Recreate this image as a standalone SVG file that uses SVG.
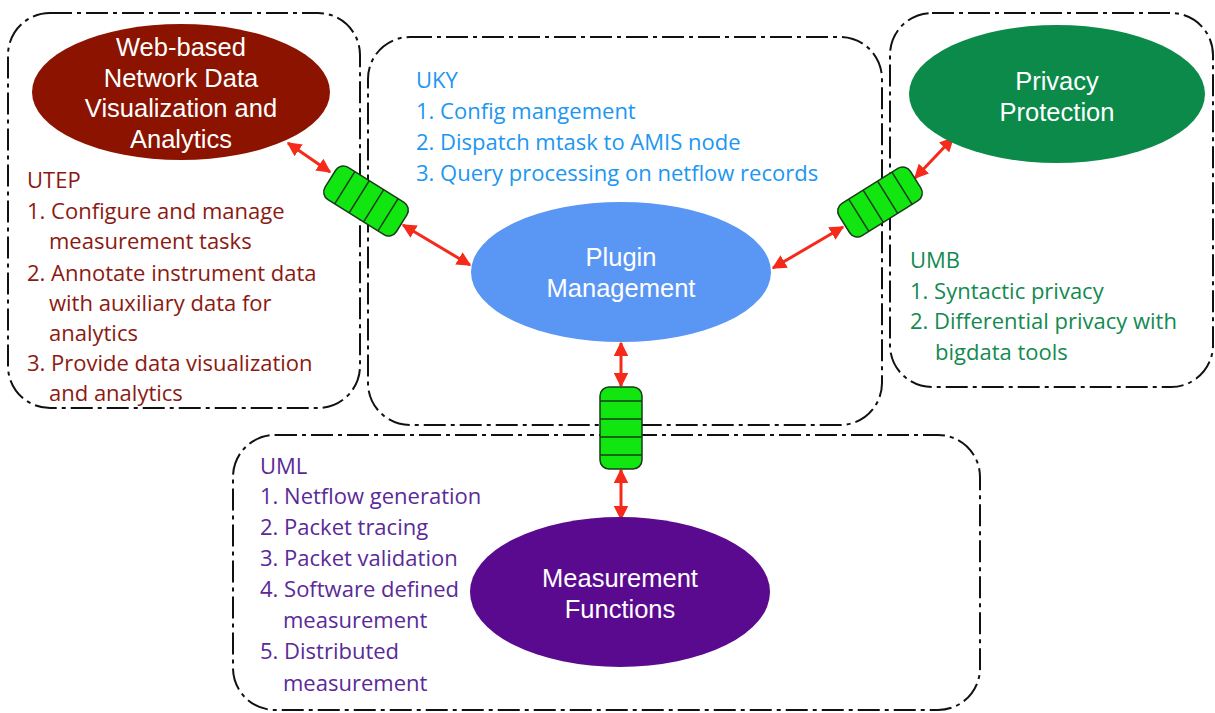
<svg xmlns="http://www.w3.org/2000/svg" width="1215" height="713" viewBox="0 0 1215 713">
<defs>
<style>
.box{fill:none;stroke:#111;stroke-width:2;stroke-dasharray:22 5 4 5}
.lbl{font-family:"Liberation Sans",Arial,sans-serif;font-size:25.5px;fill:#fff;text-anchor:middle}
.t{font-family:"Open Sans","Liberation Sans",sans-serif;font-size:22px}
.utep{fill:#8b1a12}.uky{fill:#2196f0}.umb{fill:#138a50}.uml{fill:#5a2a98}
.q{fill:#11e611;stroke:#1a3a1a;stroke-width:1.5}
.ql{stroke:#1a3a1a;stroke-width:1.5}
.arr{stroke:#f52a1a;stroke-width:3;fill:none;marker-start:url(#ah);marker-end:url(#ah)}
</style>
<marker id="ah" viewBox="0 0 10 10" refX="9" refY="5" markerWidth="4.8" markerHeight="4.8" orient="auto-start-reverse" markerUnits="strokeWidth">
<path d="M0,0 L10,5 L0,10 z" fill="#f52a1a"/>
</marker>
</defs>
<rect width="1215" height="713" fill="#fff"/>

<g id="box-utep"><rect class="box" x="8" y="13" width="352" height="395" rx="42"/></g>
<g id="box-uky"><rect class="box" x="368" y="37" width="514" height="388" rx="42"/></g>
<g id="box-umb"><rect class="box" x="890" y="13" width="323" height="374" rx="42"/></g>
<g id="box-uml"><rect class="box" x="233" y="435" width="747" height="275" rx="42"/></g>

<g id="connectors">
<line class="arr" x1="288" y1="143" x2="330" y2="172"/>
<line class="arr" x1="403" y1="225" x2="470" y2="265"/>
<line class="arr" x1="773" y1="268" x2="843" y2="227"/>
<line class="arr" x1="915" y1="178" x2="953" y2="138"/>
<line class="arr" x1="621" y1="343" x2="621" y2="386"/>
<line class="arr" x1="621" y1="470" x2="621" y2="519"/>
</g>

<g id="queue-left" transform="translate(366,201) rotate(32)">
<rect class="q" x="-42" y="-19" width="84" height="38" rx="9"/>
<line class="ql" x1="-25" y1="-19" x2="-25" y2="19"/>
<line class="ql" x1="-8" y1="-19" x2="-8" y2="19"/>
<line class="ql" x1="9" y1="-19" x2="9" y2="19"/>
<line class="ql" x1="26" y1="-19" x2="26" y2="19"/>
</g>
<g id="queue-right" transform="translate(880,202) rotate(-32)">
<rect class="q" x="-42" y="-19" width="84" height="38" rx="9"/>
<line class="ql" x1="-25" y1="-19" x2="-25" y2="19"/>
<line class="ql" x1="-8" y1="-19" x2="-8" y2="19"/>
<line class="ql" x1="9" y1="-19" x2="9" y2="19"/>
<line class="ql" x1="26" y1="-19" x2="26" y2="19"/>
</g>
<g id="queue-bottom" transform="translate(621,428)">
<rect class="q" x="-21" y="-41" width="42" height="82" rx="9"/>
<line class="ql" x1="-21" y1="-27" x2="21" y2="-27"/>
<line class="ql" x1="-21" y1="-9" x2="21" y2="-9"/>
<line class="ql" x1="-21" y1="9" x2="21" y2="9"/>
<line class="ql" x1="-21" y1="27" x2="21" y2="27"/>
</g>

<g id="node-web">
<ellipse cx="181" cy="92" rx="149" ry="68" fill="#8b1300"/>
<text class="lbl" x="181" y="56">Web-based</text>
<text class="lbl" x="181" y="87">Network Data</text>
<text class="lbl" x="181" y="117">Visualization and</text>
<text class="lbl" x="181" y="148">Analytics</text>
</g>
<g id="node-privacy">
<ellipse cx="1057" cy="94" rx="148" ry="69" fill="#0b8a4a"/>
<text class="lbl" x="1057" y="90">Privacy</text>
<text class="lbl" x="1057" y="121">Protection</text>
</g>
<g id="node-plugin">
<ellipse cx="621" cy="272" rx="150" ry="70" fill="#5a96f4"/>
<text class="lbl" x="621" y="266">Plugin</text>
<text class="lbl" x="621" y="297">Management</text>
</g>
<g id="node-measure">
<ellipse cx="620" cy="592" rx="150" ry="75" fill="#5a0a8e"/>
<text class="lbl" x="620" y="587">Measurement</text>
<text class="lbl" x="620" y="618">Functions</text>
</g>

<g id="text-utep" class="t utep">
<text x="27" y="188">UTEP</text>
<text x="27" y="219">1. Configure and manage</text>
<text x="49" y="249">measurement tasks</text>
<text x="27" y="281">2. Annotate instrument data</text>
<text x="49" y="311">with auxiliary data for</text>
<text x="49" y="341">analytics</text>
<text x="27" y="371">3. Provide data visualization</text>
<text x="49" y="401">and analytics</text>
</g>
<g id="text-uky" class="t uky">
<text x="416" y="88">UKY</text>
<text x="416" y="119">1. Config mangement</text>
<text x="416" y="150">2. Dispatch mtask to AMIS node</text>
<text x="416" y="181">3. Query processing on netflow records</text>
</g>
<g id="text-umb" class="t umb">
<text x="910" y="268">UMB</text>
<text x="910" y="299">1. Syntactic privacy</text>
<text x="910" y="329">2. Differential privacy with</text>
<text x="935" y="360">bigdata tools</text>
</g>
<g id="text-uml" class="t uml">
<text x="260" y="474">UML</text>
<text x="260" y="504">1. Netflow generation</text>
<text x="260" y="535">2. Packet tracing</text>
<text x="260" y="566">3. Packet validation</text>
<text x="260" y="597">4. Software defined</text>
<text x="283" y="628">measurement</text>
<text x="260" y="659">5. Distributed</text>
<text x="283" y="691">measurement</text>
</g>
</svg>
